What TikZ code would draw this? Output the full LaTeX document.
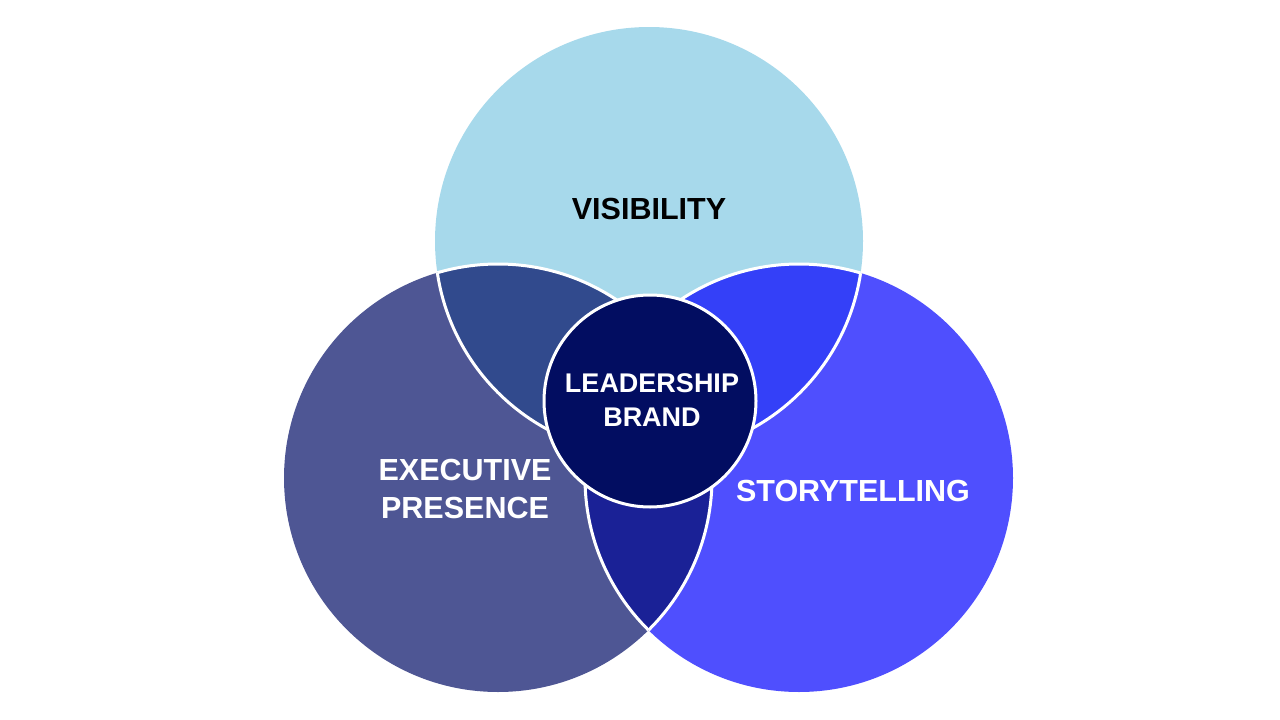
\documentclass[tikz,border=0pt]{standalone}
\usepackage{fontspec}
\setmainfont{Liberation Sans}
\definecolor{topc}{HTML}{A7D9EB}
\definecolor{leftc}{HTML}{4E5694}
\definecolor{rightc}{HTML}{4F4FFE}
\definecolor{tlc}{HTML}{314A8D}
\definecolor{trc}{HTML}{3440F8}
\definecolor{botc}{HTML}{1A2196}
\definecolor{centc}{HTML}{020D61}
\tikzset{
  lensline/.style={draw=white, line width=3pt},
  biglabel/.style={font=\fontsize{30.5}{38.5}\selectfont\bfseries, align=center, inner sep=0pt},
  brandlabel/.style={font=\fontsize{27}{34}\selectfont\bfseries, align=center, text=white},
}
\begin{document}
\begin{tikzpicture}[x=1pt,y=-1pt]
\useasboundingbox (0,0) rectangle (1280,720);
\coordinate (T) at (649,241);
\coordinate (L) at (498,478);
\coordinate (R) at (799,478);
\fill[topc] (T) circle[radius=214pt];
\fill[leftc] (L) circle[radius=214pt];
\fill[rightc] (R) circle[radius=214pt];
\begin{scope}
  \clip (T) circle[radius=214pt];
  \fill[tlc] (L) circle[radius=214pt];
  \draw[lensline] (L) circle[radius=214pt];
\end{scope}
\begin{scope}
  \clip (L) circle[radius=214pt];
  \draw[lensline] (T) circle[radius=214pt];
\end{scope}
\begin{scope}
  \clip (T) circle[radius=214pt];
  \fill[trc] (R) circle[radius=214pt];
  \draw[lensline] (R) circle[radius=214pt];
\end{scope}
\begin{scope}
  \clip (R) circle[radius=214pt];
  \draw[lensline] (T) circle[radius=214pt];
\end{scope}
\begin{scope}
  \clip (L) circle[radius=214pt];
  \fill[botc] (R) circle[radius=214pt];
  \draw[lensline] (R) circle[radius=214pt];
\end{scope}
\begin{scope}
  \clip (R) circle[radius=214pt];
  \draw[lensline] (L) circle[radius=214pt];
\end{scope}
\node[circle, minimum size=212pt, inner sep=0pt, fill=centc, draw=white, line width=3pt] (brand) at (650,401) {};
\node[brandlabel] (brandtext) at (652,400) {LEADERSHIP\\BRAND};
\node[biglabel, text=black] (vis) at (649,209) {VISIBILITY};
\node[biglabel, text=white] (exec) at (465,489) {EXECUTIVE\\PRESENCE};
\node[biglabel, text=white] (story) at (853,491) {STORYTELLING};
\end{tikzpicture}
\end{document}
